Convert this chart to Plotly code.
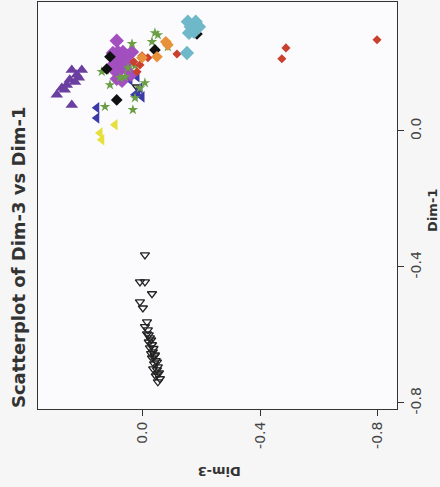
import plotly.graph_objects as go

# ---- data (Dim-3, Dim-1) per group ----
open_tri_d3 = [-0.007, 0.010, -0.007, -0.031, 0.010, 0.000, -0.014, -0.007, -0.017, -0.014, -0.024,
               -0.020, -0.031, -0.024, -0.034, -0.041, -0.031, -0.044, -0.038, -0.051, -0.048, -0.055,
               -0.044, -0.058, -0.051, -0.020, -0.028, -0.036, -0.040, -0.048, -0.050, -0.028, -0.035, 0.020]
open_tri_d1 = [-0.365, -0.444, -0.444, -0.479, -0.503, -0.521, -0.562, -0.576, -0.585, -0.597, -0.609,
               -0.621, -0.629, -0.638, -0.650, -0.659, -0.668, -0.676, -0.685, -0.694, -0.703, -0.712,
               -0.721, -0.729, -0.738, -0.600, -0.615, -0.640, -0.662, -0.680, -0.715, -0.655, -0.700, 0.129]

purple_d3 = [0.242, 0.208, 0.225, 0.249, 0.231, 0.259, 0.276, 0.293, 0.266, 0.218, 0.242]
purple_d1 = [0.179, 0.179, 0.165, 0.150, 0.144, 0.135, 0.126, 0.106, 0.121, 0.156, 0.076]

blue_d3 = [0.157, 0.157, 0.003, 0.017, 0.020, 0.010, 0.027, 0.044]
blue_d1 = [0.068, 0.038, 0.100, 0.112, 0.159, 0.126, 0.106, 0.150]

yellow_d3 = [0.095, 0.146, 0.140, 0.048, 0.054]
yellow_d1 = [0.018, -0.006, -0.026, 0.188, 0.174]

magenta_d3 = [0.089, 0.102, 0.085, 0.068, 0.054, 0.095, 0.078, 0.102, 0.085, 0.068, 0.078, 0.061,
              0.089, 0.071, 0.037, 0.041, 0.051, 0.092]
magenta_d1 = [0.265, 0.229, 0.232, 0.232, 0.221, 0.215, 0.215, 0.194, 0.200, 0.200, 0.179, 0.185,
              0.153, 0.147, 0.232, 0.165, 0.203, 0.174]

green_d3 = [-0.041, -0.051, -0.031, 0.037, 0.140, 0.126, 0.112, -0.007, 0.010, 0.027, 0.129, 0.034,
            0.061, 0.051, 0.027, 0.078, -0.085]
green_d1 = [0.288, 0.282, 0.262, 0.256, 0.174, 0.179, 0.135, 0.141, 0.126, 0.097, 0.071, 0.062,
            0.159, 0.185, 0.191, 0.156, 0.247]

black_d3 = [0.112, 0.123, 0.089, -0.041, -0.184]
black_d1 = [0.218, 0.182, 0.091, 0.238, 0.285]

red_d3 = [-0.797, -0.487, -0.473, -0.116, -0.017, 0.003, 0.010, 0.020, 0.031]
red_d1 = [0.268, 0.244, 0.212, 0.226, 0.215, 0.221, 0.194, 0.174, 0.203]

orange_d3 = [-0.085, -0.078, -0.048, 0.003]
orange_d1 = [0.253, 0.262, 0.218, 0.215]

cyan_d3 = [-0.153, -0.180, -0.163, -0.191, -0.157, -0.174, -0.150]
cyan_d1 = [0.321, 0.321, 0.306, 0.306, 0.288, 0.291, 0.229]

tick_vals = [0.0, -0.4, -0.8]
tick_text = ["0.0", "-0.4", "-0.8"]

FONT = "DejaVu Sans"

fig = go.Figure()

def add(x, y, symbol, color, size, line=None):
    m = dict(symbol=symbol, color=color, size=size)
    if line:
        m["line"] = line
    fig.add_trace(go.Scatter(x=x, y=y, mode="markers", marker=m, hoverinfo="skip"))

add(open_tri_d3, open_tri_d1, "triangle-down-open", "#222222", 8, dict(width=1.3, color="#222222"))
add(purple_d3, purple_d1, "triangle-up", "#6a3fa0", 11)
add(blue_d3, blue_d1, "triangle-left", "#3b3ba8", 10)
add(yellow_d3, yellow_d1, "triangle-left", "#e6df3c", 10)
add(magenta_d3, magenta_d1, "diamond", "#a24fbf", 11)
add(green_d3, green_d1, "star", "#6b9e45", 8)
add(black_d3, black_d1, "diamond", "#111111", 9)
add(red_d3, red_d1, "diamond", "#c9402e", 7)
add(orange_d3, orange_d1, "diamond", "#e8903a", 9)
add(cyan_d3, cyan_d1, "diamond", "#6fb8c9", 11)

axis_common = dict(
    showgrid=False, zeroline=False, showline=True, linecolor="#333333", linewidth=1,
    mirror=True, ticks="outside", ticklen=6, tickcolor="#333333",
    tickvals=tick_vals, ticktext=tick_text, tickangle=-90, automargin=False,
    tickfont=dict(family=FONT, size=14, color="#444444"),
)

fig.update_layout(
    width=440, height=487,
    margin=dict(l=38, r=43, t=2, b=78),
    paper_bgcolor="#f6f6f6", plot_bgcolor="#fbfbfd",
    showlegend=False,
    xaxis=dict(range=[0.357, -0.865], **axis_common),
    yaxis=dict(range=[-0.818, 0.379], side="right", **axis_common),
    annotations=[
        dict(text="<b>Scatterplot of Dim-3 vs Dim-1</b>", xref="paper", yref="paper",
             x=-0.056, y=0.373, textangle=-90, showarrow=False,
             font=dict(family=FONT, size=18, color="#333333"), xanchor="center", yanchor="middle"),
        dict(text="<b>Dim-1</b>", xref="paper", yref="paper", x=1.100, y=0.489,
             textangle=-90, showarrow=False, font=dict(family=FONT, size=13, color="#333333"),
             xanchor="center", yanchor="middle"),
        dict(text="<b>Dim-3</b>", xref="paper", yref="paper", x=0.504, y=-0.152,
             textangle=180, showarrow=False, font=dict(family=FONT, size=13, color="#333333"),
             xanchor="center", yanchor="middle"),
    ],
)

fig.write_html("out.html", config={"displayModeBar": False},
               post_script="document.body.style.margin='0';document.body.style.overflow='hidden';")
